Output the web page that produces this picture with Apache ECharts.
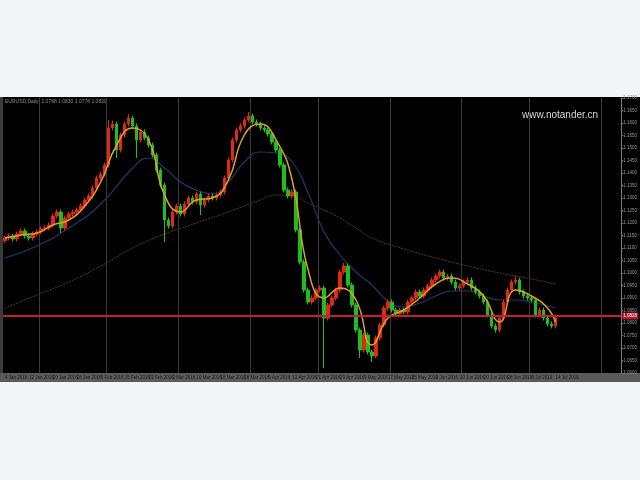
<!DOCTYPE html>
<html><head><meta charset="utf-8">
<script src="https://cdn.jsdelivr.net/npm/echarts@6/dist/echarts.min.js"></script>
<style>
html,body{margin:0;padding:0;background:#f3f4f6;}
#wrap{position:relative;width:640px;height:480px;}
.bg{position:absolute;}
#chart{position:absolute;left:0;top:0;width:640px;height:480px;}
</style></head>
<body><div id="wrap">
<div class="bg" style="left:0;top:97px;width:640px;height:276px;background:#000"></div>
<div class="bg" style="left:0;top:97px;width:3px;height:285px;background:#3a3a3a"></div>
<div class="bg" style="left:0;top:373px;width:640px;height:9px;background:#5a5a5a"></div>
<div id="chart"></div></div>
<script>
const totalSlots = 155;
const dateLabels = ['4 Jan 2016','12 Jan 2016','20 Jan 2016','28 Jan 2016','5 Feb 2016','15 Feb 2016','23 Feb 2016','2 Mar 2016','10 Mar 2016','18 Mar 2016','28 Mar 2016','5 Apr 2016','13 Apr 2016','21 Apr 2016','29 Apr 2016','9 May 2016','17 May 2016','25 May 2016','2 Jun 2016','10 Jun 2016','20 Jun 2016','28 Jun 2016','6 Jul 2016','14 Jul 2016'];
const labelStep = 6;
const gridIdx = [9,26,44,62,79,97,115,132,150];

const opens = [
1.1130,1.1140,1.1148,1.1136,1.1156,1.1168,1.1148,1.1140,1.1156,1.1164,
1.1176,1.1180,1.1192,1.1228,1.1244,1.1180,1.1220,1.1236,1.1244,1.1252,
1.1268,1.1292,1.1308,1.1340,1.1380,1.1396,1.1432,1.1580,1.1596,1.1492,
1.1552,1.1596,1.1620,1.1588,1.1532,1.1564,1.1540,1.1512,1.1472,1.1412,
1.1352,1.1212,1.1188,1.1244,1.1268,1.1236,1.1276,1.1300,1.1284,1.1316,
1.1272,1.1292,1.1308,1.1300,1.1312,1.1324,1.1380,1.1452,1.1532,1.1572,
1.1588,1.1612,1.1628,1.1604,1.1596,1.1580,1.1572,1.1556,1.1524,1.1492,
1.1432,1.1332,1.1308,1.1324,1.1172,1.1044,1.0932,1.0884,1.0900,1.0932,
1.0940,1.0820,1.0872,1.0900,1.0932,1.1004,1.1028,1.0952,1.0872,1.0772,
1.0692,1.0752,1.0684,1.0668,1.0740,1.0792,1.0860,1.0884,1.0852,1.0836,
1.0852,1.0844,1.0884,1.0900,1.0924,1.0908,1.0932,1.0948,1.0972,1.0988,
1.1004,1.0980,1.0988,1.0964,1.0940,1.0948,1.0964,1.0972,1.0940,1.0924,
1.0908,1.0884,1.0832,1.0788,1.0772,1.0820,1.0884,1.0932,1.0964,1.0972,
1.0924,1.0908,1.0900,1.0892,1.0832,1.0852,1.0820,1.0796,1.0788];
const closes = [
1.1140,1.1148,1.1136,1.1156,1.1168,1.1148,1.1140,1.1156,1.1164,1.1176,
1.1180,1.1192,1.1228,1.1244,1.1180,1.1220,1.1236,1.1244,1.1252,1.1268,
1.1292,1.1308,1.1340,1.1380,1.1396,1.1432,1.1580,1.1596,1.1492,1.1552,
1.1596,1.1620,1.1588,1.1532,1.1564,1.1540,1.1512,1.1472,1.1412,1.1352,
1.1212,1.1188,1.1244,1.1268,1.1236,1.1276,1.1300,1.1284,1.1316,1.1272,
1.1292,1.1308,1.1300,1.1312,1.1324,1.1380,1.1452,1.1532,1.1572,1.1588,
1.1612,1.1628,1.1604,1.1596,1.1580,1.1572,1.1556,1.1524,1.1492,1.1432,
1.1332,1.1308,1.1324,1.1172,1.1044,1.0932,1.0884,1.0900,1.0932,1.0940,
1.0820,1.0872,1.0900,1.0932,1.1004,1.1028,1.0952,1.0872,1.0772,1.0692,
1.0752,1.0684,1.0668,1.0740,1.0792,1.0860,1.0884,1.0852,1.0836,1.0852,
1.0844,1.0884,1.0900,1.0924,1.0908,1.0932,1.0948,1.0972,1.0988,1.1004,
1.0980,1.0988,1.0964,1.0940,1.0948,1.0964,1.0972,1.0940,1.0924,1.0908,
1.0884,1.0832,1.0788,1.0772,1.0820,1.0884,1.0932,1.0964,1.0972,1.0924,
1.0908,1.0900,1.0892,1.0832,1.0852,1.0820,1.0796,1.0788,1.0820];
const highs = [
1.1150,1.1158,1.1158,1.1166,1.1178,1.1178,1.1158,1.1166,1.1174,1.1186,
1.1190,1.1202,1.1238,1.1254,1.1254,1.1230,1.1246,1.1254,1.1262,1.1278,
1.1302,1.1318,1.1350,1.1390,1.1406,1.1442,1.1612,1.1610,1.1606,1.1562,
1.1606,1.1636,1.1630,1.1598,1.1574,1.1574,1.1550,1.1522,1.1482,1.1422,
1.1362,1.1222,1.1254,1.1278,1.1278,1.1286,1.1310,1.1310,1.1326,1.1326,
1.1302,1.1318,1.1318,1.1322,1.1334,1.1390,1.1462,1.1542,1.1582,1.1598,
1.1622,1.1644,1.1638,1.1614,1.1606,1.1590,1.1582,1.1566,1.1534,1.1502,
1.1442,1.1342,1.1334,1.1334,1.1182,1.1054,1.0942,1.0910,1.0942,1.0950,
1.0950,1.0882,1.0910,1.0942,1.1014,1.1040,1.1038,1.0962,1.0882,1.0782,
1.0762,1.0762,1.0694,1.0750,1.0802,1.0870,1.0894,1.0894,1.0862,1.0862,
1.0862,1.0894,1.0910,1.0934,1.0934,1.0942,1.0958,1.0982,1.0998,1.1014,
1.1014,1.0998,1.0998,1.0974,1.0958,1.0974,1.0982,1.0982,1.0950,1.0934,
1.0918,1.0894,1.0842,1.0798,1.0830,1.0894,1.0942,1.0974,1.0990,1.0982,
1.0934,1.0918,1.0910,1.0902,1.0862,1.0862,1.0830,1.0806,1.0830];
const lows = [
1.1120,1.1130,1.1126,1.1126,1.1146,1.1138,1.1130,1.1130,1.1146,1.1154,
1.1166,1.1170,1.1182,1.1218,1.1160,1.1170,1.1210,1.1226,1.1234,1.1242,
1.1258,1.1282,1.1298,1.1330,1.1370,1.1386,1.1422,1.1570,1.1460,1.1482,
1.1542,1.1586,1.1578,1.1460,1.1522,1.1530,1.1502,1.1462,1.1402,1.1342,
1.1124,1.1178,1.1178,1.1234,1.1226,1.1226,1.1266,1.1274,1.1274,1.1232,
1.1262,1.1282,1.1290,1.1290,1.1302,1.1314,1.1370,1.1442,1.1522,1.1562,
1.1578,1.1602,1.1594,1.1586,1.1570,1.1562,1.1546,1.1514,1.1482,1.1422,
1.1322,1.1298,1.1298,1.1162,1.1034,1.0922,1.0874,1.0874,1.0890,1.0922,
1.0620,1.0810,1.0862,1.0890,1.0922,1.0994,1.0942,1.0862,1.0762,1.0660,
1.0682,1.0674,1.0644,1.0658,1.0730,1.0782,1.0850,1.0842,1.0826,1.0826,
1.0834,1.0834,1.0874,1.0890,1.0898,1.0898,1.0922,1.0938,1.0962,1.0978,
1.0970,1.0970,1.0954,1.0930,1.0930,1.0938,1.0954,1.0930,1.0914,1.0898,
1.0874,1.0822,1.0778,1.0762,1.0762,1.0810,1.0874,1.0922,1.0954,1.0914,
1.0898,1.0890,1.0882,1.0822,1.0822,1.0810,1.0786,1.0778,1.0778];

const fastMA = [[0,1.1140],[4,1.1152],[8,1.1160],[12,1.1192],[16,1.1212],[20,1.1268],[24,1.1364],[28,1.1512],[32,1.1580],[36,1.1532],[40,1.1312],[44,1.1244],[48,1.1292],[52,1.1300],[56,1.1372],[60,1.1552],[64,1.1596],[68,1.1532],[72,1.1372],[76,1.1012],[80,1.0900],[84,1.0940],[88,1.0892],[92,1.0712],[96,1.0820],[100,1.0852],[104,1.0900],[108,1.0956],[112,1.0980],[116,1.0956],[120,1.0908],[124,1.0804],[128,1.0932],[132,1.0908],[136,1.0860],[138,1.0804]];
const midMA = [[0,1.1060],[8,1.1108],[16,1.1180],[24,1.1276],[32,1.1420],[36,1.1460],[40,1.1420],[44,1.1364],[48,1.1332],[52,1.1316],[56,1.1364],[60,1.1444],[64,1.1484],[68,1.1480],[72,1.1444],[76,1.1320],[80,1.1164],[84,1.1072],[88,1.1004],[92,1.0952],[96,1.0888],[100,1.0864],[104,1.0880],[108,1.0908],[112,1.0928],[116,1.0928],[120,1.0908],[124,1.0892],[128,1.0892],[132,1.0884],[136,1.0868],[138,1.0860]];
const slowMA = [[0,1.0860],[8,1.0912],[16,1.0964],[24,1.1028],[32,1.1100],[40,1.1156],[48,1.1200],[56,1.1244],[64,1.1292],[68,1.1312],[72,1.1308],[76,1.1280],[80,1.1252],[84,1.1220],[88,1.1180],[92,1.1140],[100,1.1096],[108,1.1060],[116,1.1028],[124,1.1000],[132,1.0976],[138,1.0956]];
const levelLine = 1.0828;
const yMin = 1.0600, yMax = 1.1700, yStep = 0.0050;
const headerText = 'EURUSD,Daily  1.0788 1.0830 1.0778 1.0820';
const watermark = 'www.notander.cn';

const categories = [];
for (let i = 0; i < totalSlots; i++) {
  categories.push(i % labelStep === 0 && dateLabels[i / labelStep] ? dateLabels[i / labelStep] : '');
}
const candles = opens.map((o, i) => [o, closes[i], lows[i], highs[i]]);

const chart = echarts.init(document.getElementById('chart'), null, {renderer: 'canvas'});
chart.setOption({
  backgroundColor: 'transparent',
  animation: false,
  graphic: [
    {type: 'text', left: 5, top: 99, style: {text: headerText, fill: '#8c8c8c', font: '5px "Liberation Sans", Arial'}},
    {type: 'text', left: 522, top: 110, style: {text: watermark, fill: '#d8d8d8', font: '10px "Liberation Sans", Arial'}}
  ],
  grid: {left: 3, right: 17, top: 98, bottom: 107, show: false},
  xAxis: {
    type: 'category', data: categories, boundaryGap: true,
    axisLine: {show: false}, axisTick: {show: false},
    axisLabel: {
      interval: (idx, v) => v !== '', color: '#1c1c1c', fontSize: 4.5, margin: 2,
      align: 'left', fontFamily: '"Liberation Sans", Arial'
    },
    splitLine: {show: true, interval: (idx) => gridIdx.indexOf(idx) >= 0, lineStyle: {color: '#3a3a3a', width: 1}}
  },
  yAxis: {
    type: 'value', position: 'right', min: yMin, max: yMax, interval: yStep,
    axisLine: {show: true, lineStyle: {color: '#7a7a7a'}},
    axisTick: {show: true, length: 2, lineStyle: {color: '#7a7a7a'}},
    axisLabel: {color: '#9a9a9a', fontSize: 4.5, margin: 2, formatter: v => v.toFixed(4), fontFamily: '"Liberation Sans", Arial'},
    splitLine: {show: false}
  },
  series: [
    {
      type: 'line', data: slowMA, smooth: true, symbol: 'none',
      lineStyle: {color: '#5a3818', width: 1, type: [2, 1]}, z: 1
    },
    {
      type: 'line', data: midMA, smooth: true, symbol: 'none',
      lineStyle: {color: '#1c3a66', width: 1.2}, z: 1
    },
    {
      type: 'candlestick', data: candles, barWidth: 3,
      itemStyle: {color: '#e02818', color0: '#1cc01c', borderColor: '#e02818', borderColor0: '#1cc01c', borderWidth: 1},
      z: 2,
      markLine: {
        symbol: 'none', silent: true, animation: false, precision: 4,
        lineStyle: {color: '#c41c3c', width: 2, type: 'solid'},
        label: {show: true, position: 'end', distance: 1, formatter: levelLine.toFixed(4), color: '#fff', fontSize: 4.5, backgroundColor: '#b01830', padding: [1, 1]},
        data: [{yAxis: levelLine}]
      }
    },
    {
      type: 'line', data: fastMA, smooth: true, symbol: 'none',
      lineStyle: {color: '#e0a028', width: 1.5}, z: 3
    }
  ]
});
</script></body></html>
